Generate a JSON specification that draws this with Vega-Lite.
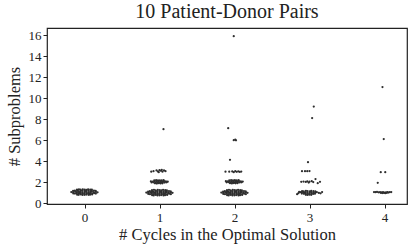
{
  "$schema": "https://vega.github.io/schema/vega-lite/v6.json",
  "width": 360,
  "height": 176,
  "autosize": "none",
  "padding": {"left": 47, "top": 28, "right": 8, "bottom": 46},
  "background": "white",
  "config": {"font": "Liberation Serif", "view": {"stroke": "#222", "strokeWidth": 1.2}},
  "title": {"text": "10 Patient-Donor Pairs", "fontSize": 20, "fontWeight": "normal", "color": "#222", "offset": 6, "anchor": "middle"},
  "data": {
    "values": "cycles,subproblems\n-0.100,1.29\n-0.074,1.32\n-0.052,1.28\n-0.023,1.31\n0.003,1.30\n0.027,1.27\n0.048,1.32\n0.076,1.29\n0.098,1.28\n-0.152,1.16\n-0.128,1.19\n-0.099,1.17\n-0.077,1.15\n-0.048,1.20\n-0.026,1.18\n0.004,1.16\n0.023,1.19\n0.052,1.17\n0.078,1.15\n0.097,1.18\n0.126,1.20\n0.149,1.17\n-0.176,1.06\n-0.151,1.03\n-0.124,1.08\n-0.101,1.05\n-0.073,1.04\n-0.052,1.07\n-0.027,1.02\n0.002,1.06\n0.024,1.07\n0.051,1.03\n0.077,1.05\n0.098,1.08\n0.123,1.04\n0.152,1.07\n0.174,1.03\n-0.149,0.93\n-0.127,0.91\n-0.102,0.94\n-0.074,0.92\n-0.051,0.95\n-0.024,0.90\n-0.001,0.93\n0.026,0.94\n0.049,0.91\n0.073,0.93\n0.102,0.92\n0.128,0.95\n0.151,0.91\n-0.098,0.81\n-0.077,0.79\n-0.049,0.83\n-0.026,0.78\n0.001,0.80\n0.024,0.82\n0.053,0.79\n0.074,0.81\n0.102,0.83\n0.900,1.24\n0.926,1.27\n0.948,1.23\n0.977,1.26\n1.003,1.25\n1.027,1.22\n1.048,1.27\n1.076,1.24\n1.098,1.23\n0.848,1.11\n0.872,1.14\n0.901,1.12\n0.923,1.10\n0.952,1.15\n0.974,1.13\n1.004,1.11\n1.023,1.14\n1.052,1.12\n1.078,1.10\n1.097,1.13\n1.126,1.15\n1.149,1.12\n0.824,1.01\n0.849,0.98\n0.876,1.03\n0.899,1.00\n0.927,0.99\n0.948,1.02\n0.973,0.97\n1.002,1.01\n1.024,1.02\n1.051,0.98\n1.077,1.00\n1.098,1.03\n1.123,0.99\n1.152,1.02\n1.174,0.98\n0.851,0.88\n0.873,0.86\n0.898,0.89\n0.926,0.87\n0.949,0.90\n0.976,0.85\n0.999,0.88\n1.026,0.89\n1.049,0.86\n1.073,0.88\n1.102,0.87\n1.128,0.90\n1.151,0.86\n0.902,0.76\n0.923,0.74\n0.951,0.78\n0.974,0.73\n1.001,0.75\n1.024,0.77\n1.053,0.74\n1.074,0.76\n1.102,0.78\n1.900,1.24\n1.926,1.27\n1.948,1.23\n1.977,1.26\n2.003,1.25\n2.027,1.22\n2.048,1.27\n2.076,1.24\n2.098,1.23\n1.848,1.11\n1.872,1.14\n1.901,1.12\n1.923,1.10\n1.952,1.15\n1.974,1.13\n2.004,1.11\n2.023,1.14\n2.052,1.12\n2.078,1.10\n2.097,1.13\n2.126,1.15\n2.149,1.12\n1.824,1.01\n1.849,0.98\n1.876,1.03\n1.899,1.00\n1.927,0.99\n1.948,1.02\n1.973,0.97\n2.002,1.01\n2.024,1.02\n2.051,0.98\n2.077,1.00\n2.098,1.03\n2.123,0.99\n2.152,1.02\n2.174,0.98\n1.851,0.88\n1.873,0.86\n1.898,0.89\n1.926,0.87\n1.949,0.90\n1.976,0.85\n1.999,0.88\n2.026,0.89\n2.049,0.86\n2.073,0.88\n2.102,0.87\n2.128,0.90\n2.151,0.86\n1.902,0.76\n1.923,0.74\n1.951,0.78\n1.974,0.73\n2.001,0.75\n2.024,0.77\n2.053,0.74\n2.074,0.76\n2.102,0.78\n2.901,1.14\n2.923,1.12\n2.952,1.17\n2.974,1.15\n3.004,1.13\n3.023,1.16\n3.052,1.14\n3.078,1.12\n2.876,1.05\n2.899,1.02\n2.927,1.01\n2.948,1.04\n2.973,0.99\n3.002,1.03\n3.024,1.04\n3.051,1.00\n3.077,1.02\n3.098,1.05\n2.898,0.91\n2.926,0.89\n2.949,0.92\n2.976,0.87\n2.999,0.90\n3.026,0.91\n3.049,0.88\n3.073,0.90\n2.951,0.80\n2.974,0.78\n3.001,0.81\n3.024,0.79\n2.835,0.86\n2.852,0.95\n3.125,0.97\n3.148,0.94\n3.168,1.06\n2.862,1.08\n0.930,2.17\n0.955,2.19\n0.980,2.16\n1.005,2.18\n1.030,2.17\n1.055,2.19\n0.885,2.08\n0.910,2.06\n0.935,2.09\n0.960,2.07\n0.985,2.05\n1.010,2.08\n1.035,2.06\n1.060,2.09\n1.085,2.07\n1.110,2.05\n0.895,1.97\n0.920,1.99\n0.945,1.96\n0.970,1.98\n0.995,1.95\n1.020,1.97\n1.045,1.99\n1.070,1.96\n1.095,1.98\n0.940,1.89\n0.965,1.87\n0.990,1.90\n1.015,1.88\n1.040,1.89\n1.930,2.18\n1.955,2.20\n1.980,2.17\n2.005,2.19\n2.030,2.18\n2.055,2.20\n1.885,2.09\n1.910,2.07\n1.935,2.10\n1.960,2.08\n1.985,2.06\n2.010,2.09\n2.035,2.07\n2.060,2.10\n2.085,2.08\n2.110,2.06\n1.895,1.98\n1.920,2.00\n1.945,1.97\n1.970,1.99\n1.995,1.96\n2.020,1.98\n2.045,2.00\n2.070,1.97\n2.095,1.99\n1.940,1.90\n1.965,1.88\n1.990,1.91\n2.015,1.89\n2.040,1.90\n2.89,2.03\n2.92,2.06\n2.95,2.02\n2.97,2.07\n3.00,2.04\n3.03,2.09\n3.05,2.01\n3.08,2.30\n3.11,1.90\n3.14,2.03\n2.99,1.96\n0.89,3.00\n0.92,3.05\n0.96,3.12\n0.98,3.02\n1.00,3.15\n1.02,3.08\n1.04,3.00\n1.06,3.12\n1.08,3.05\n0.99,2.95\n1.03,3.18\n1.88,3.00\n1.93,3.00\n1.97,3.02\n1.99,2.95\n2.01,3.05\n2.03,2.98\n2.05,3.03\n2.07,2.97\n2.09,3.01\n2.90,3.05\n2.94,3.05\n2.97,3.04\n3.00,3.06\n3.86,1.06\n3.88,1.04\n3.90,1.07\n3.92,1.03\n3.94,1.05\n3.95,0.98\n3.96,1.02\n3.97,0.96\n3.98,1.04\n3.99,0.99\n4.00,1.01\n4.01,0.95\n4.02,1.03\n4.03,0.98\n4.04,1.05\n4.05,1.01\n4.07,1.04\n4.09,1.06\n1.053,7.05\n1.916,7.14\n1.99,6.00\n2.01,6.04\n2.02,5.98\n1.94,4.13\n1.99,15.9\n3.035,8.1\n3.057,9.2\n2.98,3.9\n3.973,11.05\n3.99,6.1\n3.95,2.95\n4.01,2.95\n3.91,1.94",
    "format": {"type": "csv", "parse": {"cycles": "number", "subproblems": "number"}}
  },
  "mark": {"type": "circle", "size": 5, "color": "#2e2e2e", "opacity": 1},
  "encoding": {
    "x": {
      "field": "cycles", "type": "quantitative",
      "scale": {"domain": [-0.5, 4.3], "nice": false, "zero": false},
      "axis": {"values": [0, 1, 2, 3, 4], "title": "# Cycles in the Optimal Solution", "grid": false, "domain": false, "tickColor": "#222", "tickSize": 4, "labelFontSize": 13, "titleFontSize": 16.5, "titleFontWeight": "normal", "labelColor": "#222", "titleColor": "#222", "labelPadding": 3, "titlePadding": 2}
    },
    "y": {
      "field": "subproblems", "type": "quantitative",
      "scale": {"domain": [-0.08, 16.68], "nice": false, "zero": false},
      "axis": {"values": [0, 2, 4, 6, 8, 10, 12, 14, 16], "title": "# Subproblems", "grid": false, "domain": false, "tickColor": "#222", "tickSize": 4, "labelFontSize": 13, "titleFontSize": 16.5, "titleFontWeight": "normal", "labelColor": "#222", "titleColor": "#222", "labelPadding": 2, "titlePadding": 6}
    }
  }
}
